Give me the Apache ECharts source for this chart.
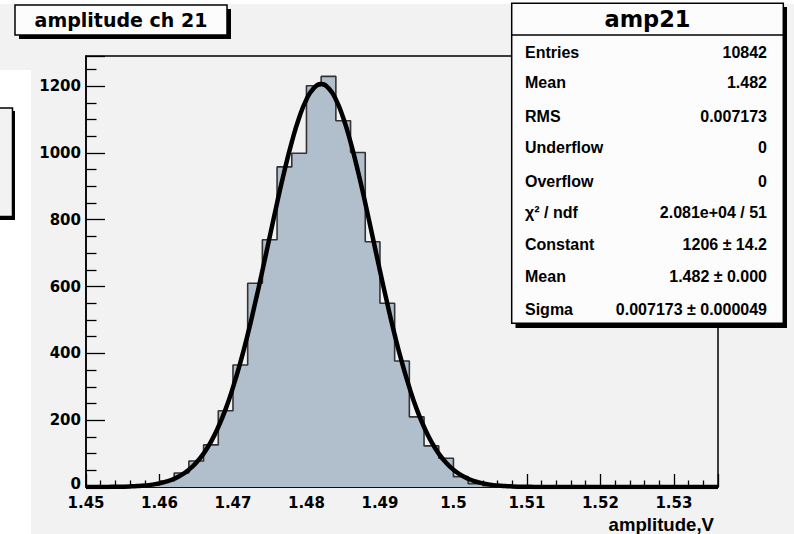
<!DOCTYPE html>
<html>
<head>
<meta charset="utf-8">
<script src="https://cdn.jsdelivr.net/npm/echarts@6/dist/echarts.min.js"></script>
<style>
html,body{margin:0;padding:0;background:#f2f2f2;}
#chart{width:794px;height:534px;}
</style>
</head>
<body>
<div id="chart"></div>
<script>
// ---- data ----
const histTitle = 'amplitude ch 21';
const statsTitle = 'amp21';
const xAxisTitle = 'amplitude,V';
const binStart = 1.45;
const binWidth = 0.002;
const counts = [0,0,0,2,6,18,42,78,126,228,365,610,740,958,999,1201,1229,1096,1001,734,550,377,210,123,86,31,10,4,0,0,0,0,0,0,0,0,0,0,0,0,0,0,0];
const fitStart = 1.45;
const fitStep = 0.001;
const fitValues = [0.06,0.1,0.19,0.34,0.6,1.0,1.7,2.8,4.5,7.1,10.9,16.6,24.7,36.1,51.8,72.7,100,135,179.5,233,298,372,456,549,647.5,749,850,946,1032,1105,1160,1194,1206,1194,1160,1105,1032,946,850,749,647.5,549,456,372,298,233,179.5,135,100,72.7,51.8,36.1,24.7,16.6,10.9,7.1,4.5,2.8,1.7,1.0,0.6,0.34,0.19,0.1,0.06,0,0,0,0,0,0,0,0,0,0,0,0,0,0,0,0,0,0,0,0,0,0];
const xMin = 1.45, xMax = 1.536, xInterval = 0.01;
const yMin = 0, yMax = 1290, yInterval = 200;
const statLabels = ['Entries','Mean','RMS','Underflow','Overflow','\u03C7\u00B2 / ndf','Constant','Mean','Sigma'];
const statValues = ['10842','1.482','0.007173','0','0','2.081e+04 / 51','1206 \u00B1 14.2','1.482 \u00B1 0.000','0.007173 \u00B1 0.000049'];

// ---- build series data ----
const histData = counts.map((c, i) => [binStart + i * binWidth, c]);
histData.push([binStart + counts.length * binWidth, counts[counts.length - 1]]);
const fitData = fitValues.map((v, i) => [fitStart + i * fitStep, v]);

const statBaselines = [58.3, 88.3, 122.3, 153.3, 186.7, 218.3, 250, 282.3, 315];
const graphics = [
  // white strips of the screenshot
  {type:'rect', shape:{x:0,y:0,width:794,height:4}, style:{fill:'#ffffff'}, z:1, silent:true},
  {type:'rect', shape:{x:0,y:70,width:31,height:470}, style:{fill:'#ffffff'}, z:1, silent:true},
  // partial box at left edge
  {type:'rect', shape:{x:-20,y:111,width:35,height:109}, style:{fill:'#000'}, z:2},
  {type:'rect', shape:{x:-20,y:108,width:32.5,height:108.5}, style:{fill:'#f2f2f2', stroke:'#000', lineWidth:1.5}, z:3},
  // title box
  {type:'rect', shape:{x:19,y:9,width:212,height:30}, style:{fill:'#000'}, z:20},
  {type:'rect', shape:{x:15,y:5,width:212,height:30}, style:{fill:'#fcfcfc', stroke:'#000', lineWidth:1.5}, z:21},
  {type:'text', x:121, y:20, style:{text:histTitle, font:'bold 19px "DejaVu Sans"', fill:'#000', align:'center', verticalAlign:'middle'}, z:22},
  // stats box
  {type:'rect', shape:{x:515.5,y:7,width:271.5,height:321}, style:{fill:'#000'}, z:20},
  {type:'rect', shape:{x:511.7,y:3.3,width:271.6,height:320}, style:{fill:'#fcfcfc', stroke:'#000', lineWidth:1.5}, z:21},
  {type:'line', shape:{x1:511.7,y1:35,x2:783.3,y2:35}, style:{stroke:'#000', lineWidth:1.5}, z:22},
  {type:'text', x:647.5, y:19, style:{text:statsTitle, font:'bold 22.5px "DejaVu Sans"', fill:'#000', align:'center', verticalAlign:'middle'}, z:22}
];
statLabels.forEach((lab, i) => {
  graphics.push({type:'text', x:525, y:statBaselines[i] - 5.6, style:{text:lab, font:'bold 16px "Liberation Sans"', fill:'#000', align:'left', verticalAlign:'middle'}, z:22});
  graphics.push({type:'text', x:767, y:statBaselines[i] - 5.6, style:{text:statValues[i], font:'bold 16px "Liberation Sans"', fill:'#000', align:'right', verticalAlign:'middle'}, z:22});
});

const chart = echarts.init(document.getElementById('chart'), null, {renderer:'svg', width:794, height:534});
const fmt = v => String(parseFloat(Number(v).toFixed(4)));
const yFmt = v => (Number(v) === 0 ? '{z|0}' : String(v));
chart.setOption({
  backgroundColor:'#f2f2f2',
  animation:false,
  grid:{left:86, top:56, width:632, height:431, show:true, borderColor:'#000', borderWidth:1.5, backgroundColor:'transparent'},
  xAxis:{
    type:'value', min:xMin, max:xMax, interval:xInterval,
    name:xAxisTitle, nameLocation:'end', nameGap:-4,
    nameTextStyle:{fontFamily:'Liberation Sans', fontWeight:'bold', fontSize:18.6, color:'#000', align:'right', verticalAlign:'top', padding:[28,0,0,0]},
    axisLine:{show:true, onZero:false, lineStyle:{color:'#000', width:1.5}},
    axisTick:{show:true, inside:true, length:13, lineStyle:{color:'#000', width:1.3}},
    minorTick:{show:true, splitNumber:5, length:6.5, lineStyle:{color:'#000', width:1.3}},
    axisLabel:{show:true, margin:8, showMaxLabel:false, color:'#000', fontFamily:'DejaVu Sans', fontWeight:'bold', fontSize:15, formatter:fmt},
    splitLine:{show:false}
  },
  yAxis:{
    type:'value', min:yMin, max:yMax, interval:yInterval,
    axisLine:{show:true, lineStyle:{color:'#000', width:1.5}},
    axisTick:{show:true, inside:true, length:19, lineStyle:{color:'#000', width:1.3}},
    minorTick:{show:true, splitNumber:4, length:10.5, lineStyle:{color:'#000', width:1.3}},
    axisLabel:{show:true, margin:5, showMaxLabel:false, color:'#000', fontFamily:'DejaVu Sans', fontWeight:'bold', fontSize:15, formatter:yFmt,
      rich:{z:{fontFamily:'DejaVu Sans', fontWeight:'bold', fontSize:15, color:'#000', padding:[0,0,6,0]}}},
    splitLine:{show:false}
  },
  series:[
    {
      type:'line', name:'hist', data:histData, step:'end', symbol:'none',
      lineStyle:{color:'#333', width:1.6},
      areaStyle:{color:'#b0bfcb', opacity:1},
      z:2
    },
    {
      type:'line', name:'fit', data:fitData, smooth:true, symbol:'none',
      lineStyle:{color:'#000', width:4.5},
      z:3
    }
  ],
  graphic:graphics
});
</script>
</body>
</html>
